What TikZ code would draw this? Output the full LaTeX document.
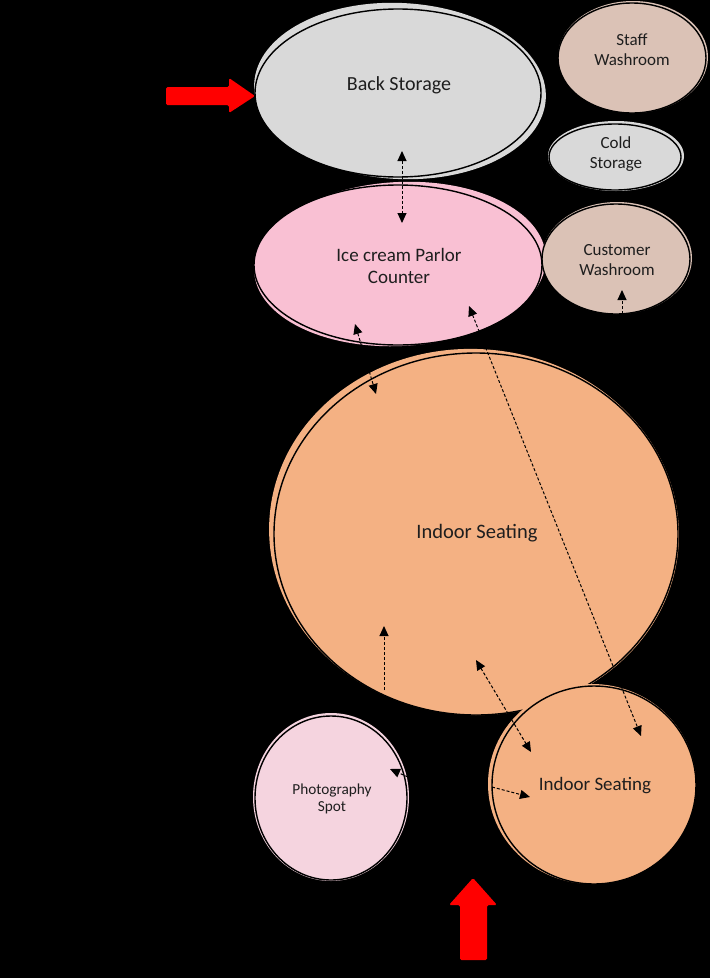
\documentclass[tikz,border=0pt]{standalone}
\usepackage{fontspec}
\setmainfont{Carlito}
\usetikzlibrary{shapes.geometric,arrows.meta}
\definecolor{roomgrey}{HTML}{D9D9D9}
\definecolor{roompink}{HTML}{F9C0D3}
\definecolor{roombrown}{HTML}{DBC2B6}
\definecolor{roomorange}{HTML}{F4B183}
\definecolor{roomlight}{HTML}{F5D4DF}
\definecolor{txt}{HTML}{1E1E1E}
\definecolor{entry}{HTML}{FF0000}
\tikzset{
  room/.style={ellipse, draw=black, line width=1.4pt, inner sep=0pt},
  lbl/.style={align=center, text=txt, inner sep=0pt},
  flowboth/.style={black, line width=1pt, dash pattern=on 3pt off 2pt,
    {Triangle[length=10pt,width=9pt]}-{Triangle[length=10pt,width=9pt]}},
  flowone/.style={black, line width=1pt, dash pattern=on 3pt off 2pt,
    -{Triangle[length=10pt,width=9pt]}},
  entryarrow/.style={fill=entry, rounded corners=1.5pt}
}
\begin{document}
\begin{tikzpicture}[x=1pt,y=-1pt]
\fill[black] (0,0) rectangle (710,978);
\useasboundingbox (0,0) rectangle (710,978);

% ---------- rooms ----------
% Back Storage
\fill[roomgrey, rotate around={-3:(400,91)}] (400,91) ellipse [x radius=146pt, y radius=88pt];
\node[room, fill=roomgrey, minimum width=286pt, minimum height=168pt] (bs) at (398,93) {};
\node[lbl, font=\fontsize{20}{24}\selectfont] (bsL) at (399,85) {Back Storage};

% Ice cream Parlor Counter
\fill[roompink, rotate around={3:(400,264)}] (400,264) ellipse [x radius=146pt, y radius=82pt];
\node[room, fill=roompink, minimum width=288pt, minimum height=160pt] (ic) at (398,265) {};
\node[lbl, font=\fontsize{19}{22}\selectfont] (icL) at (399,266) {Ice cream Parlor\\Counter};

% Staff Washroom
\fill[roombrown] (633,57) ellipse [x radius=75pt, y radius=56pt];
\node[room, fill=roombrown, minimum width=148pt, minimum height=110pt] (sw) at (632,58) {};
\node[lbl, font=\fontsize{17}{20}\selectfont] (swL) at (632,50) {Staff\\Washroom};

% Cold Storage
\fill[roomgrey] (616,156) ellipse [x radius=68pt, y radius=35pt];
\node[room, fill=roomgrey, minimum width=132pt, minimum height=66pt] (cs) at (615,157) {};
\node[lbl, font=\fontsize{17}{20}\selectfont] (csL) at (616,154) {Cold\\Storage};

% Customer Washroom
\fill[roombrown] (617,258) ellipse [x radius=75pt, y radius=56pt];
\node[room, fill=roombrown, minimum width=148pt, minimum height=110pt] (cw) at (616,259) {};
\node[lbl, font=\fontsize{17}{19.5}\selectfont] (cwL) at (617,260) {Customer\\Washroom};

% Indoor Seating (large)
\fill[roomorange, rotate around={-4:(474,532)}] (474,532) ellipse [x radius=205pt, y radius=183pt];
\node[room, fill=roomorange, minimum width=404pt, minimum height=362pt] (isa) at (476,534) {};
\node[lbl, font=\fontsize{20.5}{24}\selectfont] (isaL) at (477,533) {Indoor Seating};

% Indoor Seating (small)
\fill[roomorange] (592,784) ellipse [x radius=104pt, y radius=100pt];
\node[room, fill=roomorange, minimum width=204pt, minimum height=198pt] (isb) at (594,785) {};
\node[lbl, font=\fontsize{19}{22}\selectfont] (isbL) at (595,786) {Indoor Seating};

% Photography Spot
\fill[roomlight] (331,797) ellipse [x radius=78pt, y radius=84pt];
\node[room, fill=roomlight, minimum width=152pt, minimum height=164pt] (ps) at (331,798) {};
\node[lbl, font=\fontsize{15.3}{17.5}\selectfont] (psL) at (332,799) {Photography\\Spot};

% ---------- connector end points ----------
\coordinate (a1s) at (402,151); \coordinate (a1e) at (402,223);
\coordinate (a2s) at (622,314); \coordinate (a2e) at (622,290);
\coordinate (a3s) at (355,324); \coordinate (a3e) at (376,394);
\coordinate (a4s) at (469,306); \coordinate (a4e) at (641,736);
\coordinate (a5s) at (384,690); \coordinate (a5e) at (384,626);
\coordinate (a6s) at (476,660); \coordinate (a6e) at (531,752);
\coordinate (a7s) at (492,787); \coordinate (a7e) at (530,797);
\coordinate (a8s) at (408,777); \coordinate (a8e) at (390,769);

\draw[flowboth] (a1s) -- (a1e);
\draw[flowone]  (a2s) -- (a2e);
\draw[flowboth] (a3s) -- (a3e);
\draw[flowboth] (a4s) -- (a4e);
\draw[flowone]  (a5s) -- (a5e);
\draw[flowboth] (a6s) -- (a6e);
\draw[flowone]  (a7s) -- (a7e);
\draw[flowone]  (a8s) -- (a8e);

% ---------- entrances ----------
\fill[entryarrow] (166,87) -- (229,87) -- (229,78) -- (255,96) -- (229,113) -- (229,105) -- (166,105) -- cycle;
\fill[entryarrow] (460,960) -- (460,905) -- (449,905) -- (473,878) -- (497,905) -- (487,905) -- (487,960) -- cycle;
\end{tikzpicture}
\end{document}
